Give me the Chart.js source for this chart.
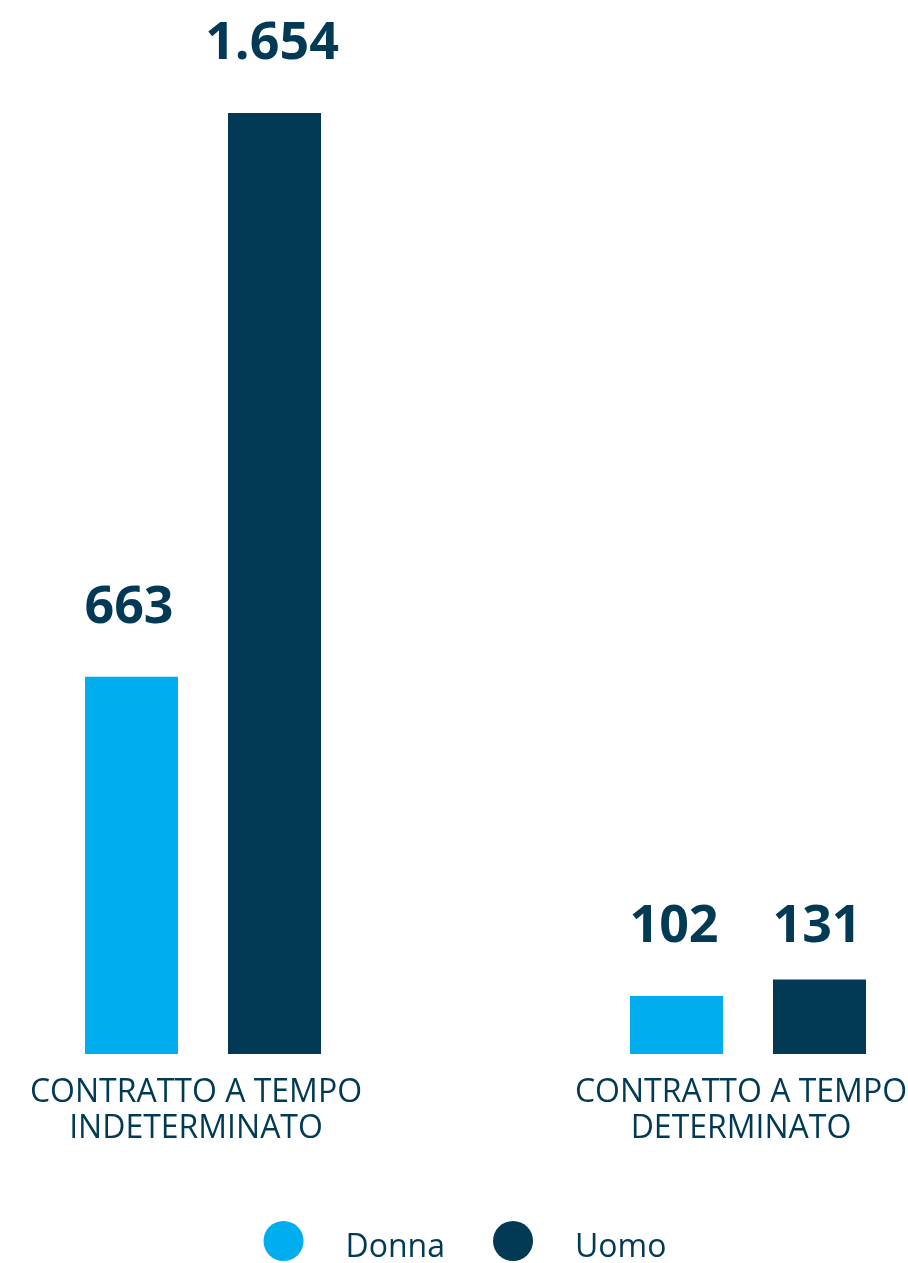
<!DOCTYPE html>
<html>
<head>
<meta charset="utf-8">
<script src="https://cdn.jsdelivr.net/npm/chart.js@4.4.1/dist/chart.umd.min.js"></script>
<style>
  html, body { margin: 0; padding: 0; background: #ffffff; }
  #wrap { width: 908px; height: 1263px; position: relative; }
</style>
</head>
<body>
<div id="wrap"><canvas id="c"></canvas></div>
<script>
const categories = [
  ['CONTRATTO A TEMPO', 'INDETERMINATO'],
  ['CONTRATTO A TEMPO', 'DETERMINATO']
];
const seriesNames = ['Donna', 'Uomo'];
const donnaValues = [663, 102];
const uomoValues = [1654, 131];
const seriesColors = ['#00AEEF', '#023A56'];
const textColor = '#023A56';
const FONT = "'Open Sans', 'Noto Sans', sans-serif";

function fmt(v) {
  return String(v).replace(/\B(?=(\d{3})+(?!\d))/g, '.');
}

const valueLabels = {
  id: 'valueLabels',
  afterDatasetsDraw(chart) {
    const ctx = chart.ctx;
    const n = chart.data.labels.length;
    const pos = [];
    chart.data.datasets.forEach((ds, di) => {
      const meta = chart.getDatasetMeta(di);
      meta.data.forEach((el, i) => {
        pos.push({ di, i, x: el.x - 2.5, y: el.y - 54, v: ds.data[i] });
      });
    });
    // align labels that would sit close to each other in the same category
    for (let i = 0; i < n; i++) {
      const grp = pos.filter(p => p.i === i);
      const ys = grp.map(p => p.y);
      if (Math.max(...ys) - Math.min(...ys) < 25) {
        const m = Math.max(...ys);
        grp.forEach(p => p.y = m);
      }
    }
    ctx.save();
    ctx.font = 'bold 52px ' + FONT;
    ctx.fillStyle = textColor;
    ctx.textAlign = 'center';
    ctx.textBaseline = 'alphabetic';
    pos.forEach(p => ctx.fillText(fmt(p.v), p.x, p.y));
    ctx.restore();
  }
};

const customLegend = {
  id: 'customLegend',
  afterDraw(chart) {
    const ctx = chart.ctx;
    ctx.save();
    ctx.font = '32px ' + FONT;
    const r = 20, gapText = 42, gapItem = 48;
    const items = chart.data.datasets.map(ds => ({ text: ds.label, color: ds.backgroundColor, w: ctx.measureText(ds.label).width }));
    let total = 0;
    items.forEach((it, k) => { total += 2 * r + gapText + it.w + (k ? gapItem : 0); });
    let x = chart.width / 2 - total / 2 + 11;
    const cy = 1241;
    items.forEach(it => {
      ctx.beginPath();
      ctx.arc(x + r, cy, r, 0, Math.PI * 2);
      ctx.fillStyle = it.color;
      ctx.fill();
      ctx.fillStyle = textColor;
      ctx.textAlign = 'left';
      ctx.textBaseline = 'alphabetic';
      ctx.fillText(it.text, x + 2 * r + gapText, cy + 16);
      x += 2 * r + gapText + it.w + gapItem;
    });
    ctx.restore();
  }
};

new Chart(document.getElementById('c'), {
  type: 'bar',
  data: {
    labels: categories,
    datasets: [
      { label: seriesNames[0], data: donnaValues, backgroundColor: seriesColors[0], clip: false },
      { label: seriesNames[1], data: uomoValues, backgroundColor: seriesColors[1], clip: false }
    ]
  },
  options: {
    responsive: true,
    maintainAspectRatio: false,
    animation: false,
    categoryPercentage: 0.5248,
    barPercentage: 0.6503,
    layout: { padding: { left: 203, right: 160, top: 113, bottom: 0 } },
    plugins: {
      legend: { display: false },
      tooltip: { enabled: false }
    },
    scales: {
      x: {
        offset: false,
        grid: { display: false, drawTicks: false },
        border: { display: false },
        ticks: {
          color: textColor,
          font: { family: FONT, size: 32, lineHeight: 1.125 },
          padding: 21,
          labelOffset: -7,
          maxRotation: 0,
          autoSkip: false
        },
        afterFit(scale) {
          scale.height = 209;
          scale.paddingLeft = 0;
          scale.paddingRight = 0;
        }
      },
      y: {
        display: false,
        min: 0,
        max: 1654
      }
    }
  },
  plugins: [valueLabels, customLegend]
});
</script>
</body>
</html>
